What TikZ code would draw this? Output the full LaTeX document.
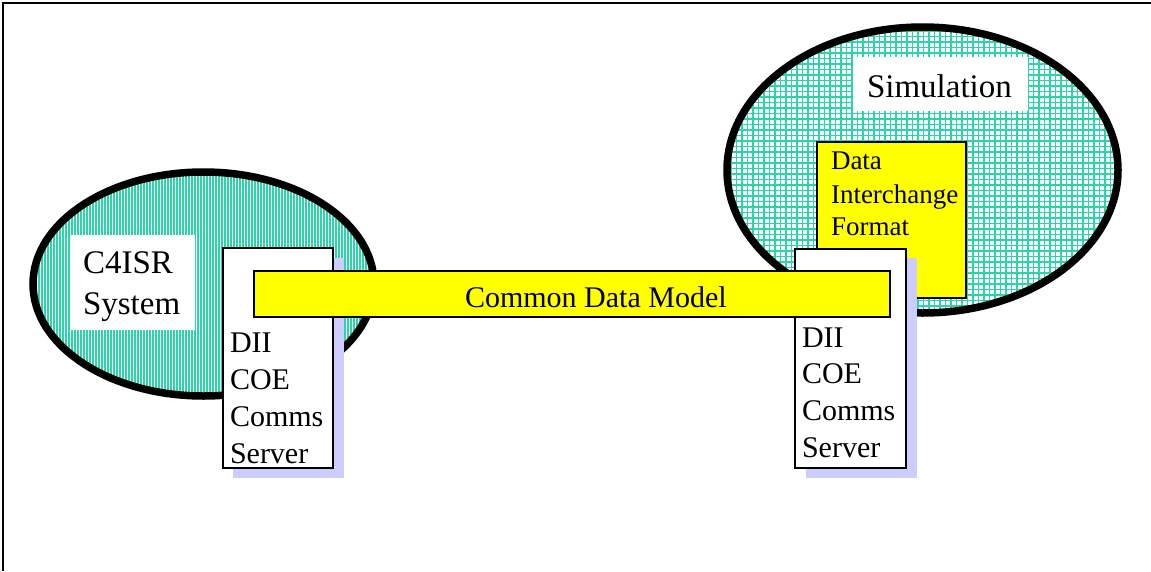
\documentclass[tikz,border=0pt]{standalone}
\usepackage{fontspec}
\setmainfont{Liberation Serif}
\usetikzlibrary{shapes.geometric}

\definecolor{hatchteal}{RGB}{40,215,165}
\definecolor{shadowblue}{RGB}{204,204,255}
\definecolor{barfill}{RGB}{255,255,0}

\newcommand\fontL{\fontsize{33}{40}\selectfont}
\newcommand\fontM{\fontsize{30}{36}\selectfont}
\newcommand\fontS{\fontsize{27}{33}\selectfont}

\tikzset{
  region/.style={ellipse, draw=black, line width=7.5pt, inner sep=0pt, outer sep=0pt},
  labelbox/.style={fill=white, inner sep=0pt, outer sep=0pt, anchor=north west},
  serverbox/.style={fill=white, draw=black, line width=1.6pt, inner sep=0pt, outer sep=0pt, anchor=north west},
  shadowbox/.style={fill=shadowblue, inner sep=0pt, outer sep=0pt, anchor=north west},
  yellowbox/.style={fill=barfill, draw=black, line width=1.8pt, inner sep=0pt, outer sep=0pt, anchor=north west},
  txt/.style={anchor=base west, inner sep=0pt, outer sep=0pt},
  hatch/.style={hatchteal, line width=#1}
}

\begin{document}
\begin{tikzpicture}[x=1pt,y=-1pt]
\useasboundingbox (0,0) rectangle (1151,571);

% page frame (top and left edges)
\coordinate (frameTR) at (1151,3);
\coordinate (frameTL) at (3,3);
\coordinate (frameBL) at (3,571);
\draw[line width=1.3pt] (frameTR) -- (frameTL) -- (frameBL);

% C4ISR region: vertical hatching inside the ellipse
\begin{scope}
  \clip (203.5,284) ellipse [x radius=170.5pt, y radius=112pt];
  \foreach \x in {30,33,...,381}
    \draw[hatch=1.6pt] (\x,160) -- (\x,410);
\end{scope}
\node[region, minimum width=341pt, minimum height=224pt] (c4isr) at (203.5,284) {};

% Simulation region: square grid hatching inside the ellipse
\begin{scope}
  \clip (922.5,170) ellipse [x radius=195.5pt, y radius=143pt];
  \foreach \x in {720,725.5,...,1128}
    \draw[hatch=1.1pt] (\x,20) -- (\x,322);
  \foreach \y in {20,25.5,...,322}
    \draw[hatch=1.1pt] (718,\y) -- (1128,\y);
\end{scope}
\node[region, minimum width=391pt, minimum height=286pt] (sim) at (922.5,170) {};

% region titles
\node[labelbox, minimum width=125pt, minimum height=95pt] (c4box) at (70,235) {};
\node[txt, font=\fontL] (c4a) at (83,273) {C4ISR};
\node[txt, font=\fontL] (c4b) at (83,314) {System};

\node[labelbox, minimum width=175pt, minimum height=54pt] (simbox) at (853,57) {};
\node[txt, font=\fontL] (simtxt) at (867,97) {Simulation};

% data interchange format
\node[yellowbox, minimum width=149pt, minimum height=156pt] (dif) at (817,142) {};
\node[txt, font=\fontS] (difa) at (831,169) {Data};
\node[txt, font=\fontS] (difb) at (831,203) {Interchange};
\node[txt, font=\fontS] (difc) at (831,235) {Format};

% comms servers with drop shadows
\node[shadowbox, minimum width=111pt, minimum height=220pt] (lshadow) at (233,258) {};
\node[serverbox, minimum width=110pt, minimum height=220pt] (lserver) at (223,248) {};
\node[txt, font=\fontM] (ls1) at (230,352) {DII};
\node[txt, font=\fontM] (ls2) at (230,389) {COE};
\node[txt, font=\fontM] (ls3) at (230,426) {Comms};
\node[txt, font=\fontM] (ls4) at (230,463) {Server};

\node[shadowbox, minimum width=111pt, minimum height=220pt] (rshadow) at (806,258) {};
\node[serverbox, minimum width=111pt, minimum height=219pt] (rserver) at (795,249) {};
\node[txt, font=\fontM] (rs1) at (802,347) {DII};
\node[txt, font=\fontM] (rs2) at (802,383) {COE};
\node[txt, font=\fontM] (rs3) at (802,420) {Comms};
\node[txt, font=\fontM] (rs4) at (802,457) {Server};

% common data model bar
\node[yellowbox, minimum width=636pt, minimum height=46pt] (cdm) at (254,271) {};
\node[txt, font=\fontM] (cdmtxt) at (465,307) {Common Data Model};
\end{tikzpicture}
\end{document}
